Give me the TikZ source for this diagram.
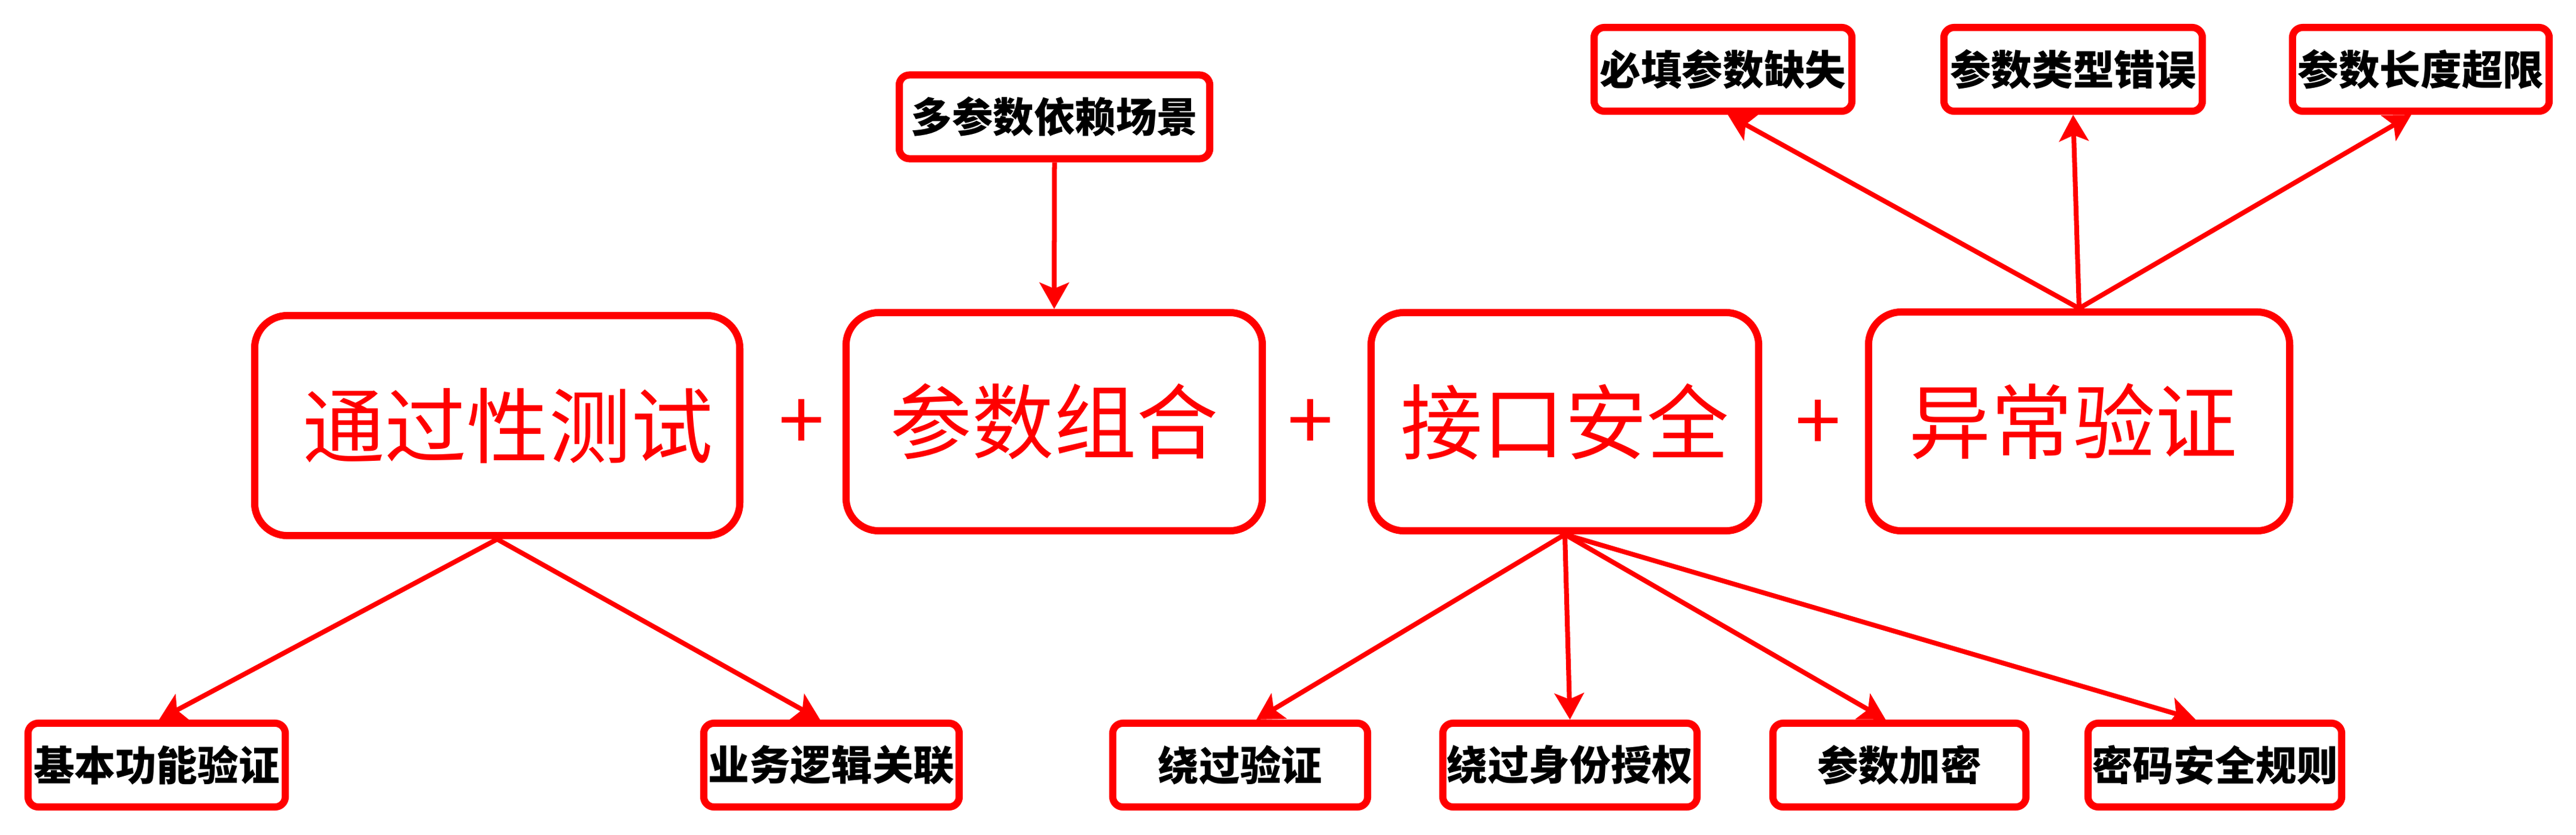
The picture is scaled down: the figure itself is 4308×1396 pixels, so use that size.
\documentclass[tikz,border=0pt]{standalone}
\usepackage{fontspec}
\newfontfamily\cjk{Noto Sans CJK SC}
\usetikzlibrary{arrows.meta}
\begin{document}
\begin{tikzpicture}[x=0.01cm,y=-0.01cm,
  bigbox/.style={draw=red, line width=0.12cm, fill=white, rounded corners=0.55cm, inner sep=0pt,
    font=\cjk\fontsize{39pt}{39pt}\selectfont, text=red, minimum height=3.65cm},
  smallbox/.style={draw=red, line width=0.12cm, fill=white, rounded corners=0.17cm, inner sep=0pt,
    font=\cjk\bfseries\fontsize{19.5pt}{19.5pt}\selectfont, text=black, minimum height=1.40cm},
  plussign/.style={text=red, font=\cjk\fontsize{39pt}{39pt}\selectfont, inner sep=0pt},
  conn/.style={draw=red, line width=0.08cm, -{Stealth[length=0.44cm,width=0.49cm,inset=0.1cm]}}
]
\useasboundingbox (0,0) rectangle (4308,1396);

% main boxes
\node[bigbox, minimum width=8.11cm, minimum height=3.68cm] (A) at (831.5,712) {\hspace*{0.36cm}通过性测试};
\node[bigbox, minimum width=6.96cm] (B) at (1763,705.5) {参数组合};
\node[bigbox, minimum width=6.48cm] (C) at (2617,705.5) {接口安全};
\node[bigbox, minimum width=7.04cm, minimum height=3.66cm] (D) at (3477,705) {\hspace*{-0.2cm}异常验证};

% plus signs
\node[plussign] (p1) at (1341,711) {+};
\node[plussign] (p2) at (2192,711) {+};
\node[plussign] (p3) at (3041,712) {+};

% top boxes
\node[smallbox, minimum width=5.19cm] (multi) at (1763.5,195.5) {多参数依赖场景};
\node[smallbox, minimum width=4.31cm] (t1) at (2881.5,116) {必填参数缺失};
\node[smallbox, minimum width=4.32cm] (t2) at (3467,116) {参数类型错误};
\node[smallbox, minimum width=4.29cm] (t3) at (4048.5,116) {参数长度超限};

% bottom boxes
\node[smallbox, minimum width=4.30cm] (b1) at (262,1280) {基本功能验证};
\node[smallbox, minimum width=4.27cm] (b2) at (1390.5,1280) {业务逻辑关联};
\node[smallbox, minimum width=4.26cm] (b3) at (2074,1280) {绕过验证};
\node[smallbox, minimum width=4.25cm] (b4) at (2625.5,1280) {绕过身份授权};
\node[smallbox, minimum width=4.23cm] (b5) at (3176.5,1280) {参数加密};
\node[smallbox, minimum width=4.24cm] (b6) at (3704,1280) {密码安全规则};

% connectors
\draw[conn] (A.south) -- ([xshift=0.04cm]b1.north);
\draw[conn] (A.south) -- ([xshift=-0.19cm]b2.north);
\draw[conn] (multi.south) -- (B.north);
\draw[conn] (C.south) -- ([xshift=0.27cm]b3.north);
\draw[conn] (C.south) -- (b4.north);
\draw[conn] (C.south) -- ([xshift=-0.23cm]b5.north);
\draw[conn] (C.south) -- ([xshift=-0.32cm]b6.north);
\draw[conn] (D.north) -- ([xshift=0.08cm]t1.south);
\draw[conn] (D.north) -- (t2.south);
\draw[conn] (D.north) -- ([xshift=-0.16cm]t3.south);
\end{tikzpicture}
\end{document}
